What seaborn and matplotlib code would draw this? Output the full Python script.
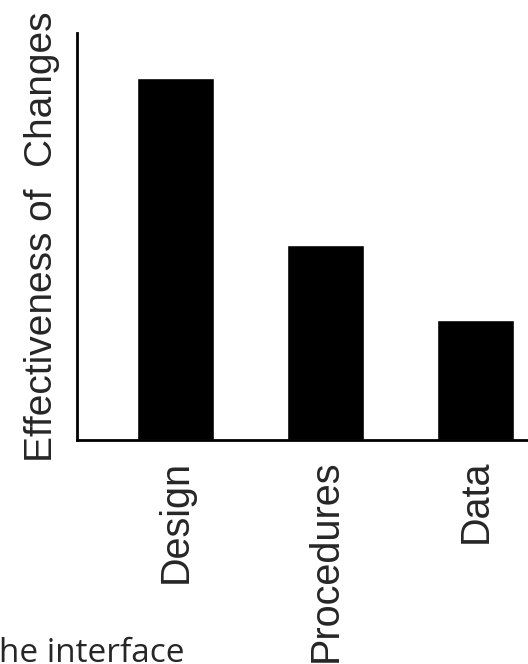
import matplotlib
matplotlib.use('Agg')
import matplotlib.pyplot as plt
import seaborn as sns

categories = ['Design', 'Procedures', 'Data']
effectiveness = [8.89, 4.79, 2.95]

sns.set_style('white')
plt.rcParams['font.family'] = ['Liberation Sans', 'DejaVu Sans']

fig = plt.figure(figsize=(5.28, 6.64), dpi=100)
ax = fig.add_axes([77/528, 1 - 440/664, 1 - 77/528, (440 - 33)/664])

sns.barplot(x=categories, y=effectiveness, color='black', saturation=1,
            width=0.51, ax=ax)

ax.set_xlim(-0.657, 2.35)
ax.set_ylim(0, 10)
ax.set_yticks([])
ax.set_xlabel('')
ax.set_ylabel('Effectiveness of  Changes', fontsize=28, labelpad=12)
ax.tick_params(axis='x', length=0, pad=14, labelsize=28.5, labelrotation=90)

sns.despine(ax=ax)
for side in ['left', 'bottom']:
    ax.spines[side].set_color('black')
    ax.spines[side].set_linewidth(2)

# cropped caption text at the bottom of the slide
fig.text(-0.025, 0.003, 'the interface', fontsize=24, family=['Open Sans', 'DejaVu Sans'],
         ha='left', va='baseline')

fig.savefig('out.png', dpi=100)
